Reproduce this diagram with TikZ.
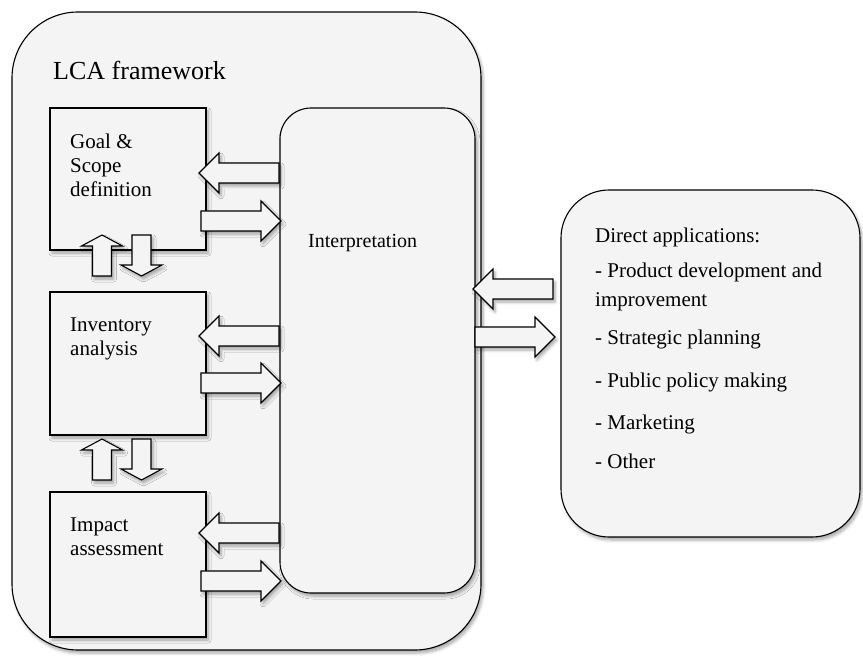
\documentclass[tikz,border=0pt]{standalone}
\usepackage{fontspec}
\setmainfont{Liberation Serif}
\usetikzlibrary{shadows.blur}
\definecolor{boxfill}{RGB}{244,244,244}
\tikzset{
  x=1pt, y=-1pt,
  shd/.style={blur shadow={shadow xshift=2pt, shadow yshift=-3pt, shadow blur steps=6, shadow blur radius=3pt, shadow opacity=35}},
  frame/.style={draw=black, line width=1.1pt, fill=boxfill, shd},
  blk/.style={draw=black, line width=1.1pt, fill=boxfill, shd},
  txt/.style={anchor=base west, inner sep=0pt, font=\fontsize{21}{24}\selectfont, align=left},
  harrow/.pic={\path[blk] (0,-10)--(60,-10)--(60,-20)--(80,0)--(60,20)--(60,10)--(0,10)--cycle;},
  varrow/.pic={\path[blk] (-9.5,0)--(-9.5,30)--(-20.5,30)--(0,41)--(20.5,30)--(9.5,30)--(9.5,0)--cycle;}
}
\begin{document}
\begin{tikzpicture}
\useasboundingbox (0,0) rectangle (863,660);
% outer frame
\path[frame, rounded corners=66pt] (12,12) rectangle (481,650);
\node[anchor=base west, inner sep=0pt, font=\fontsize{26}{31}\selectfont] (lca) at (53,80) {LCA framework};
% interpretation
\path[frame, rounded corners=31pt] (280,108) rectangle (475,593);
\node[txt, font=\fontsize{20}{24}\selectfont] (interp) at (308,248) {Interpretation};
% stage boxes
\path[frame] (50,108) rectangle (206,250);
\path[frame] (50,292) rectangle (206,435);
\path[frame] (50,492) rectangle (206,637);
% (base anchor of a multi-line node = baseline of its last line)
\node[txt] (goal) at (70,197) {Goal \&\\Scope\\definition};
\node[txt] (inv) at (70,356) {Inventory\\analysis};
\node[txt] (imp) at (70,555) {Impact\\assessment};
% horizontal arrows
\pic[rotate=180] at (279,173) {harrow};
\pic at (201,221) {harrow};
\pic[rotate=180] at (279,336) {harrow};
\pic at (201,383) {harrow};
\pic[rotate=180] at (279,533) {harrow};
\pic at (201,581) {harrow};
% vertical arrows
\pic[rotate=180] at (102,276) {varrow};
\pic at (141.5,235) {varrow};
\pic[rotate=180] at (102,480) {varrow};
\pic at (141.5,439) {varrow};
% applications
\path[frame, rounded corners=48pt] (561,190) rectangle (860,537);
\pic[rotate=180] at (553,289) {harrow};
\pic at (475,337) {harrow};
\node[txt] (a0) at (595,243) {Direct applications:};
\node[txt, font=\fontsize{21}{29}\selectfont] (a1) at (595,307) {- Product development and\\improvement};
\node[txt] (a2) at (595,345) {- Strategic planning};
\node[txt] (a3) at (595,388) {- Public policy making};
\node[txt] (a4) at (595,430) {- Marketing};
\node[txt] (a5) at (595,469) {- Other};
\end{tikzpicture}
\end{document}
